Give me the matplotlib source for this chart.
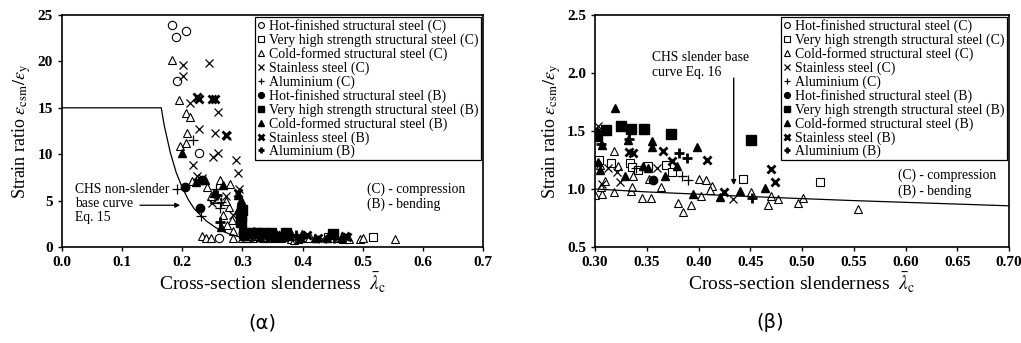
import numpy as np
import matplotlib.pyplot as plt
from matplotlib.lines import Line2D

plt.rcParams['font.family'] = ['Liberation Serif', 'DejaVu Serif']
plt.rcParams['mathtext.fontset'] = 'stix'

# ---- data (slenderness, strain ratio) per series ----
hf_c_x = [0.183, 0.190, 0.206, 0.191, 0.228, 0.261]
hf_c_y = [23.9, 22.6, 23.3, 17.9, 10.1, 1.0]

vhs_c_x = [0.304, 0.315, 0.334, 0.336, 0.342, 0.351, 0.369, 0.374, 0.443, 0.517]
vhs_c_y = [1.25, 1.22, 1.22, 1.19, 1.16, 1.20, 1.21, 1.15, 1.09, 1.06]

cf_c_x = [0.183, 0.195, 0.206, 0.213, 0.208, 0.197, 0.206, 0.216, 0.232, 0.239,
          0.247, 0.241, 0.252, 0.260, 0.262, 0.279, 0.277, 0.273, 0.282, 0.284,
          0.284, 0.247, 0.268, 0.275,
          0.318, 0.300, 0.307, 0.318, 0.335, 0.336, 0.345, 0.354, 0.364, 0.380,
          0.385, 0.393, 0.400, 0.402, 0.407, 0.413, 0.411, 0.451, 0.467, 0.470,
          0.477, 0.496, 0.501, 0.554, 0.305, 0.310, 0.322, 0.352, 0.337, 0.306]
cf_c_y = [20.1, 15.8, 14.4, 14.0, 12.3, 10.9, 11.2, 7.1, 1.2, 1.0,
          1.0, 6.5, 5.2, 5.2, 7.2, 6.8, 4.3, 5.0, 2.9, 1.7,
          1.0, 5.5, 3.5, 2.4,
          1.33, 0.95, 0.96, 0.97, 0.98, 1.02, 0.92, 0.92, 1.02, 0.88,
          0.80, 0.86, 1.09, 0.94, 1.08, 1.03, 0.99, 0.97, 0.86, 0.94,
          0.91, 0.88, 0.92, 0.83, 1.21, 1.07, 1.20, 1.09, 1.11, 1.02]

ss_c_x = [0.201, 0.201, 0.245, 0.212, 0.228, 0.259, 0.254, 0.260, 0.251, 0.290,
          0.293, 0.218, 0.225, 0.233, 0.250, 0.272, 0.294, 0.285, 0.274,
          0.303, 0.321, 0.313, 0.360, 0.433, 0.307, 0.324]
ss_c_y = [19.6, 18.4, 19.8, 15.5, 12.7, 14.6, 12.3, 10.1, 9.7, 9.4,
          8.0, 8.8, 7.7, 7.4, 4.7, 5.5, 6.2, 3.5, 12.0,
          1.54, 1.15, 1.18, 1.18, 0.91, 1.04, 1.06]

al_c_x = [0.218, 0.191, 0.231, 0.263, 0.264, 0.256, 0.384, 0.390, 0.340]
al_c_y = [11.5, 6.3, 3.3, 4.2, 4.9, 6.3, 1.11, 1.08, 1.18]

hf_b_x = [0.204, 0.230, 0.233, 0.301, 0.356]
hf_b_y = [6.5, 4.2, 7.2, 1.49, 1.08]

vhs_b_x = [0.299, 0.297, 0.298, 0.311, 0.325, 0.335, 0.347, 0.373, 0.451, 0.302]
vhs_b_y = [4.0, 3.3, 2.7, 1.51, 1.54, 1.52, 1.52, 1.47, 1.42, 1.46]

cf_b_x = [0.199, 0.222, 0.238, 0.252, 0.268, 0.265, 0.293, 0.298, 0.296, 0.292,
          0.319, 0.307, 0.332, 0.355, 0.355, 0.399, 0.305, 0.329, 0.346, 0.351,
          0.368, 0.379, 0.395, 0.421, 0.440, 0.464, 0.303]
cf_b_y = [10.1, 7.0, 7.2, 5.8, 6.7, 2.2, 5.6, 5.1, 3.0, 4.0,
          1.70, 1.38, 1.42, 1.41, 1.36, 1.36, 1.16, 1.11, 1.20, 1.18,
          1.11, 1.20, 0.96, 0.93, 0.98, 1.01, 1.23]

ss_b_x = [0.224, 0.228, 0.250, 0.254, 0.272, 0.293,
          0.333, 0.337, 0.366, 0.374, 0.408, 0.425, 0.470, 0.474]
ss_b_y = [16.2, 16.0, 16.0, 16.0, 12.1, 5.8,
          1.32, 1.31, 1.33, 1.24, 1.25, 0.97, 1.17, 1.06]

al_b_x = [0.263, 0.258, 0.381, 0.389, 0.452, 0.306, 0.333]
al_b_y = [2.7, 5.6, 1.31, 1.27, 0.92, 1.39, 1.43]

# base curves
ns_curve_x = [0.0, 0.165, 0.170, 0.180, 0.190, 0.200, 0.210, 0.220, 0.240, 0.260, 0.280, 0.300]
ns_curve_y = [15.0, 15.0, 13.1, 10.2, 8.0, 6.4, 5.1, 4.1, 2.8, 1.9, 1.36, 1.0]
sl_curve_x = [0.30, 0.35, 0.40, 0.45, 0.50, 0.55, 0.60, 0.65, 0.70]
sl_curve_y = [1.00, 0.975, 0.955, 0.935, 0.917, 0.90, 0.885, 0.87, 0.855]

series = [
    ("Hot-finished structural steel (C)", hf_c_x, hf_c_y, dict(marker='o', mfc='white', mec='black', ms=6, mew=0.8)),
    ("Very high strength structural steel (C)", vhs_c_x, vhs_c_y, dict(marker='s', mfc='white', mec='black', ms=6, mew=0.8)),
    ("Cold-formed structural steel (C)", cf_c_x, cf_c_y, dict(marker='^', mfc='white', mec='black', ms=6, mew=0.8)),
    ("Stainless steel (C)", ss_c_x, ss_c_y, dict(marker='x', color='black', ms=6, mew=0.9)),
    ("Aluminium (C)", al_c_x, al_c_y, dict(marker='+', color='black', ms=7, mew=0.9)),
    ("Hot-finished structural steel (B)", hf_b_x, hf_b_y, dict(marker='o', mfc='black', mec='black', ms=6)),
    ("Very high strength structural steel (B)", vhs_b_x, vhs_b_y, dict(marker='s', mfc='black', mec='black', ms=7)),
    ("Cold-formed structural steel (B)", cf_b_x, cf_b_y, dict(marker='^', mfc='black', mec='black', ms=6)),
    ("Stainless steel (B)", ss_b_x, ss_b_y, dict(marker='x', color='black', ms=6, mew=2.0)),
    ("Aluminium (B)", al_b_x, al_b_y, dict(marker='+', color='black', ms=7, mew=2.0)),
]

fig = plt.figure(figsize=(10.21, 3.43), dpi=100)
ax1 = fig.add_axes([62 / 1021, 96 / 343, 421 / 1021, 232 / 343])
ax2 = fig.add_axes([595 / 1021, 96 / 343, 414 / 1021, 232 / 343])

for ax in (ax1, ax2):
    for name, xs, ys, st in series:
        ax.plot(xs, ys, linestyle='none', label=name, clip_on=True, **st)
    for s in ax.spines.values():
        s.set_linewidth(1.2)
    ax.tick_params(direction='out', length=3, width=1, labelsize=11)
    ax.set_xlabel(r"Cross-section slenderness  $\bar{\lambda}_{\rm c}$", fontsize=14, labelpad=1)
    ax.set_ylabel(r"Strain ratio $\varepsilon_{\rm csm}/\varepsilon_{\rm y}$", fontsize=13, labelpad=3)

    handles = [Line2D([], [], linestyle='none', **dict(st, ms=st['ms'] * 0.7)) for _, _, _, st in series]
    leg = ax.legend(handles, [s[0] for s in series], loc='upper right', fontsize=10,
                    frameon=True, fancybox=False, edgecolor='black', framealpha=1,
                    borderpad=0.15, labelspacing=0.02, handlelength=0.6, handletextpad=0.3,
                    borderaxespad=0.15)
    leg.get_frame().set_linewidth(0.9)

ax1.plot(ns_curve_x, ns_curve_y, color='black', lw=0.9)
ax1.set_xlim(0, 0.7)
ax1.set_ylim(0, 25)
ax1.set_xticks(np.arange(0, 0.71, 0.1))
ax1.set_xticklabels([f"{v:.1f}" for v in np.arange(0, 0.71, 0.1)], fontweight='bold')
ax1.set_yticks(np.arange(0, 26, 5))
ax1.set_yticklabels([str(v) for v in range(0, 26, 5)], fontweight='bold')
ax1.text(0.022, 4.7, "CHS non-slender\nbase curve\nEq. 15", fontsize=9.8, va='center', ha='left',
         linespacing=1.1)
ax1.annotate("", xy=(0.201, 4.5), xytext=(0.125, 4.5),
             arrowprops=dict(arrowstyle='-|>', color='black', lw=0.9, mutation_scale=7))
ax1.text(0.507, 5.4, "(C) - compression\n(B) - bending", fontsize=9.8, va='center', ha='left',
         linespacing=1.2)

ax2.plot(sl_curve_x, sl_curve_y, color='black', lw=0.9)
ax2.set_xlim(0.3, 0.7)
ax2.set_ylim(0.5, 2.5)
ax2.set_xticks(np.arange(0.30, 0.701, 0.05))
ax2.set_xticklabels([f"{v:.2f}" for v in np.arange(0.30, 0.701, 0.05)], fontweight='bold')
ax2.set_yticks(np.arange(0.5, 2.51, 0.5))
ax2.set_yticklabels([f"{v:.1f}" for v in np.arange(0.5, 2.51, 0.5)], fontweight='bold')
ax2.text(0.355, 2.07, "CHS slender base\ncurve Eq. 16", fontsize=9.8, va='center', ha='left',
         linespacing=1.15)
ax2.annotate("", xy=(0.434, 1.01), xytext=(0.434, 1.98),
             arrowprops=dict(arrowstyle='-|>', color='black', lw=1.0, mutation_scale=7))
ax2.text(0.593, 1.05, "(C) - compression\n(B) - bending", fontsize=9.8, va='center', ha='left',
         linespacing=1.2)

fig.text(262 / 1021, 1 - 323 / 343, "(α)", fontsize=14, ha='center', va='center', family='DejaVu Sans')
fig.text(770 / 1021, 1 - 323 / 343, "(β)", fontsize=14, ha='center', va='center', family='DejaVu Sans')

fig.savefig("out.png", dpi=100)
